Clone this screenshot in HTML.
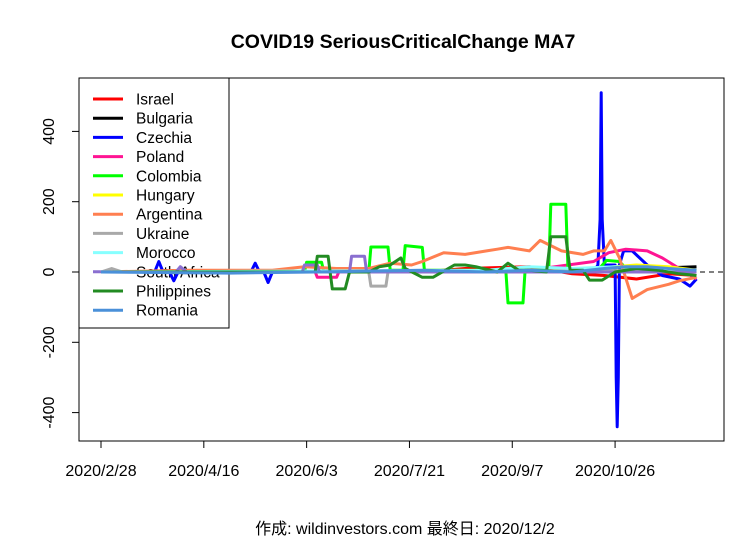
<!DOCTYPE html>
<html><head><meta charset="utf-8"><style>
body{margin:0;background:#fff}
svg text{font-family:"Liberation Sans","Noto Sans CJK JP",sans-serif}
</style></head><body>
<svg id="chart" width="756" height="540" xmlns="http://www.w3.org/2000/svg">
<rect width="756" height="540" fill="#fff"/>
<text x="403" y="48" text-anchor="middle" font-size="19.5" font-weight="bold">COVID19 SeriousCriticalChange MA7</text>
<text x="405" y="534" text-anchor="middle" font-size="16">作成: wildinvestors.com 最終日: 2020/12/2</text>
<rect x="79" y="78" width="645" height="363" fill="none" stroke="#000"/>
<g id="axes"></g>
<line x1="79" x2="724" y1="272" y2="272" stroke="#000" stroke-dasharray="5,4"/>
<g id="series"></g>
<g id="legend"></g>
</svg>
<script>
const names=["Israel","Bulgaria","Czechia","Poland","Colombia","Hungary","Argentina","Ukraine","Morocco","South Africa","Philippines","Romania"];
const colors=["#ff0000","#000000","#0000ff","#ff1493","#00ff00","#ffff00","#ff7f50","#a9a9a9","#87ffff","#8a6fd0","#228b22","#4a90d9"];
const xTickDays=[0,48,96,144,192,240];
const xTickLabels=["2020/2/28","2020/4/16","2020/6/3","2020/7/21","2020/9/7","2020/10/26"];
const yTicks=[-400,-200,0,200,400];
const israelDays=[0,150,170,200,220,235,250,265,278];
const israelVals=[0,0,10,15,-5,-10,-20,-5,-10];
const bulgariaDays=[0,230,250,265,278];
const bulgariaVals=[0,0,5,12,15];
const czechiaDays=[0,25,27,29,32,34,36,70,72,74,76,78,80,230,232,233,233.5,234,235,240,240.5,241,241.5,242,244,248,255,262,270,275,278];
const czechiaVals=[0,0,30,0,0,-25,0,0,25,0,0,-30,0,0,20,150,510,150,20,20,-300,-440,-300,20,60,60,20,-10,-20,-40,-20];
const polandDays=[0,100,101,110,111,200,230,237,245,255,262,270,278];
const polandVals=[0,0,-15,-15,0,5,30,55,65,60,40,10,-20];
const colombiaDays=[0,95,96,103,104,125,126,134,135,141,142,150,151,189,190,197,198,209,210,217,218,232,236,242,246,278];
const colombiaVals=[0,0,28,28,0,0,71,71,5,5,75,70,5,5,-88,-88,5,5,193,193,5,5,33,30,5,0];
const hungaryDays=[0,200,230,250,265,278];
const hungaryVals=[0,0,10,20,15,5];
const argentinaDays=[0,40,60,80,95,110,125,135,145,150,160,170,180,185,190,200,205,215,225,230,235,238,242,248,255,265,270,278];
const argentinaVals=[0,5,5,5,15,10,10,25,20,30,55,50,60,65,70,60,90,60,50,60,60,90,40,-75,-50,-35,-25,-15];
const ukraineDays=[0,5,10,125,126,133,134,278];
const ukraineVals=[0,10,0,0,-40,-40,0,5];
const moroccoDays=[0,180,200,220,240,260,278];
const moroccoVals=[0,5,15,10,15,10,5];
const southAfricaDays=[0,35,37,40,94,95,101,102,116,117,123,124,278];
const southAfricaVals=[0,0,15,0,0,20,20,0,0,45,45,0,0];
const philippinesDays=[0,60,100,101,106,108,114,116,125,130,135,140,142,150,155,165,170,175,185,190,195,200,208,210,217,219,225,228,234,240,250,260,270,278];
const philippinesVals=[0,0,0,45,45,-48,-48,0,0,15,20,40,10,-15,-15,20,20,15,0,25,5,5,0,100,100,5,5,-23,-23,0,10,5,-5,-10];
const romaniaDays=[0,60,100,150,180,200,220,235,245,255,265,278];
const romaniaVals=[0,-3,0,5,0,5,0,10,15,15,10,5];
const allDays=[israelDays,bulgariaDays,czechiaDays,polandDays,colombiaDays,hungaryDays,argentinaDays,ukraineDays,moroccoDays,southAfricaDays,philippinesDays,romaniaDays];
const allVals=[israelVals,bulgariaVals,czechiaVals,polandVals,colombiaVals,hungaryVals,argentinaVals,ukraineVals,moroccoVals,southAfricaVals,philippinesVals,romaniaVals];

const NS="http://www.w3.org/2000/svg";
function xS(d){return 101+d*2.142;}
function yS(v){return 272-v*0.3515;}
function mk(tag,attrs,parent){const e=document.createElementNS(NS,tag);for(const k in attrs)e.setAttribute(k,attrs[k]);parent.appendChild(e);return e;}

const axes=document.getElementById('axes');
const xa=mk('line',{x1:xS(xTickDays[0]),x2:xS(xTickDays[xTickDays.length-1]),y1:441,y2:441,stroke:'#000'},axes);


xTickDays.forEach((d,i)=>{
  const t=mk('line',{x1:xS(d),x2:xS(d),y1:441,y2:448,stroke:'#000'},axes);
  
  
  const l=mk('text',{x:xS(d),y:476,'text-anchor':'middle','font-size':16},axes);
  l.textContent=xTickLabels[i];
  
  
});
const ya=mk('line',{x1:79,x2:79,y1:yS(yTicks[0]),y2:yS(yTicks[yTicks.length-1]),stroke:'#000'},axes);


yTicks.forEach(v=>{
  const t=mk('line',{x1:72,x2:79,y1:yS(v),y2:yS(v),stroke:'#000'},axes);
  
  
  const l=mk('text',{x:54,y:yS(v),'text-anchor':'middle','font-size':16,transform:`rotate(-90 54 ${yS(v)})`},axes);
  l.textContent=String(v);
  
  
});

const leg=document.getElementById('legend');
const lb=mk('rect',{x:79,y:78,width:150,height:250,fill:'#fff',stroke:'#000'},leg);


names.forEach((n,i)=>{
  const y=99+i*19.2;
  const ln=mk('line',{x1:93,x2:123,y1:y,y2:y,stroke:colors[i],'stroke-width':3},leg);
  
  
  const t=mk('text',{x:136,y:y+5.5,'font-size':15.5},leg);
  t.textContent=n;
  
  
});
const svg=document.getElementById('chart');
svg.insertBefore(leg,document.getElementById('series'));

const sg=document.getElementById('series');
allDays.forEach((ds,i)=>{
  const pts=ds.map((d,j)=>xS(d).toFixed(1)+','+yS(allVals[i][j]).toFixed(1)).join(' ');
  const p=mk('polyline',{points:pts,fill:'none',stroke:colors[i],'stroke-width':3,'stroke-linejoin':'round'},sg);
  
  
});
</script>
</body></html>
